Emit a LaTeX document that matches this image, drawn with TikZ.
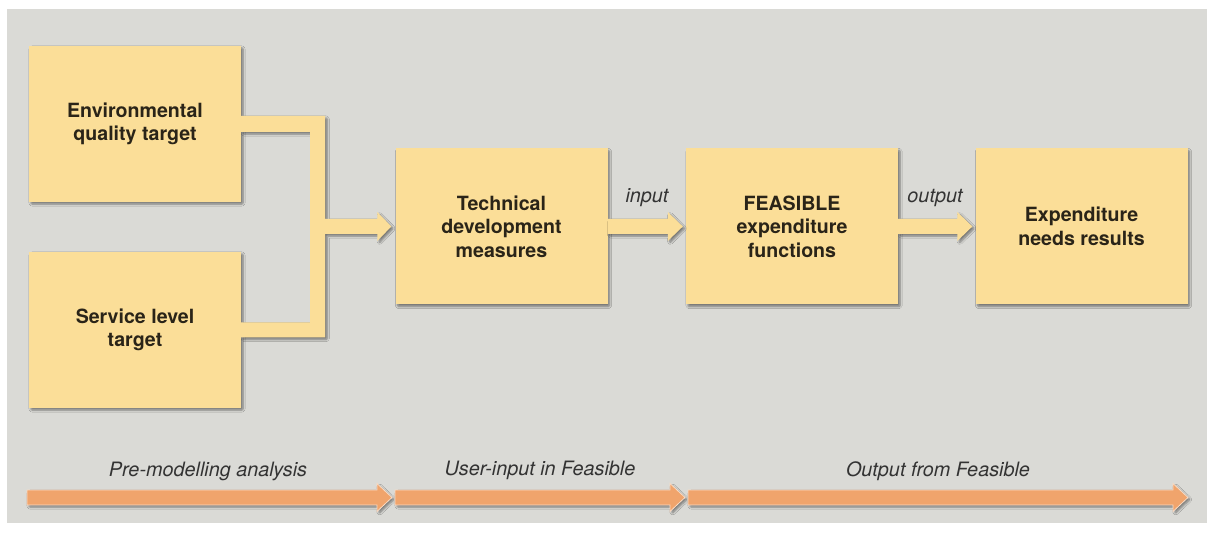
\documentclass[tikz,border=0pt]{standalone}
\usepackage{fontspec}
\setmainfont{TeX Gyre Heros}
\setsansfont{TeX Gyre Heros}
\usetikzlibrary{calc,shadows.blur}
\definecolor{panel}{HTML}{DADAD6}
\definecolor{boxfill}{HTML}{FBDE98}
\definecolor{phase}{HTML}{F0A46C}
\definecolor{boxtext}{HTML}{2A2418}
\definecolor{labtext}{HTML}{333333}
\tikzset{
  shade3/.style={blur shadow={shadow xshift=2pt,shadow yshift=-2pt,shadow blur steps=6,shadow blur extra rounding=1pt,shadow opacity=45}},
  stagebox/.style={rectangle,fill=boxfill,minimum width=212pt,minimum height=156pt,inner sep=0pt,
    align=center,text=boxtext,font=\bfseries\fontsize{19.6}{23.5}\selectfont,shade3},
  conn/.style={fill=boxfill,shade3},
  phasearr/.style={fill=phase,draw=white!60!phase,line width=0.8pt,shade3},
  flowlab/.style={text=labtext,font=\itshape\fontsize{19.8}{23}\selectfont,inner sep=0pt},
}
\begin{document}
\begin{tikzpicture}[x=1pt,y=-1pt]
\useasboundingbox (0,0) rectangle (1212,534);
\fill[white] (0,0) rectangle (1212,534);
\fill[panel] (7,9) rectangle (1207,523);

% boxes
\node[stagebox] (env)  at (135,124)   {Environmental\\quality target};
\node[stagebox] (serv) at (135,330)   {Service level\\target};
\node[stagebox] (tech) at (501.5,226.5) {Technical\\development\\measures};
\node[stagebox] (feas) at (792,226.5) {FEASIBLE\\expenditure\\functions};
\node[stagebox] (expn) at (1081.5,226.5) {Expenditure\\needs results};

% merged connector from the two targets to the technical measures
\coordinate (jt) at ($(env.east)+(84,0)$);
\path[conn]
  ($(env.east)+(0,-8)$) -- ($(jt)+(0,-8)$)
  -- ($(jt|-tech.west)+(0,-7.5)$) -- ($(tech.west)+(-18,-7.5)$)
  -- ($(tech.west)+(-18,-14.5)$) -- ($(tech.west)+(-4,0)$)
  -- ($(tech.west)+(-18,14.5)$) -- ($(tech.west)+(-18,7.5)$)
  -- ($(jt|-tech.west)+(0,7.5)$) -- ($(jt|-serv.east)+(0,7.5)$)
  -- ($(serv.east)+(0,7.5)$) -- ($(serv.east)+(0,-7.5)$)
  -- ($(jt|-serv.east)+(-15,-7.5)$) -- ($(jt)+(-15,8)$)
  -- ($(env.east)+(0,8)$) -- cycle;

% input arrow
\path[conn]
  ($(tech.east)+(0,-7.5)$) -- ($(feas.west)+(-18,-7.5)$)
  -- ($(feas.west)+(-18,-14.5)$) -- ($(feas.west)+(-3,0)$)
  -- ($(feas.west)+(-18,14.5)$) -- ($(feas.west)+(-18,7.5)$)
  -- ($(tech.east)+(0,7.5)$) -- cycle;
% output arrow
\path[conn]
  ($(feas.east)+(0,-7.5)$) -- ($(expn.west)+(-18,-7.5)$)
  -- ($(expn.west)+(-18,-14.5)$) -- ($(expn.west)+(-3,0)$)
  -- ($(expn.west)+(-18,14.5)$) -- ($(expn.west)+(-18,7.5)$)
  -- ($(feas.east)+(0,7.5)$) -- cycle;

\node[flowlab] (inlab)  at (647,198) {input};
\node[flowlab] (outlab) at (935,198) {output};

% phase arrows
\coordinate (p0) at (27,497.5);
\coordinate (p1) at (392,497.5);
\coordinate (p2) at (395,497.5);
\coordinate (p3) at (685,497.5);
\coordinate (p4) at (688,497.5);
\coordinate (p5) at (1188,497.5);
\foreach \a/\b in {p0/p1,p2/p3,p4/p5}{
  \path[phasearr] ($(\a)+(0,-7.5)$) -- ($(\b)+(-15,-7.5)$) -- ($(\b)+(-15,-14)$)
    -- (\b) -- ($(\b)+(-15,14)$) -- ($(\b)+(-15,7.5)$) -- ($(\a)+(0,7.5)$) -- cycle;
}
\node[flowlab] (ph1) at (208,471) {Pre-modelling analysis};
\node[flowlab] (ph2) at (540,470) {User-input in Feasible};
\node[flowlab] (ph3) at (938,471) {Output from Feasible};
\end{tikzpicture}
\end{document}
